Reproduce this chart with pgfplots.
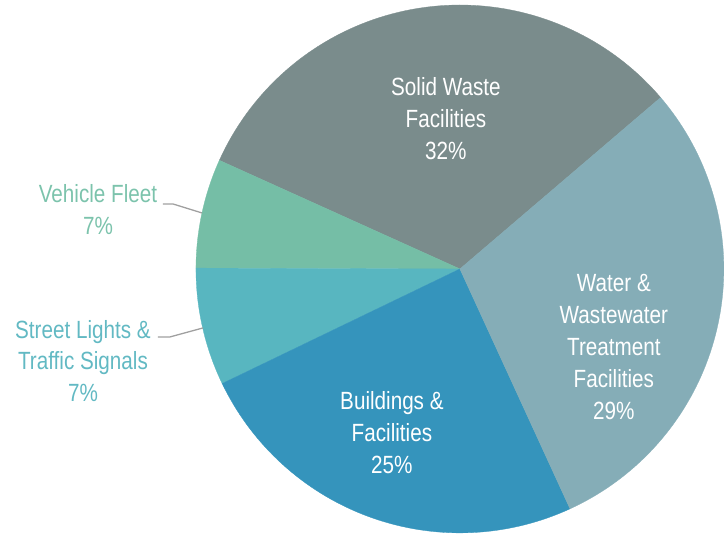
\documentclass[border=0pt]{standalone}
\usepackage{pgfplots}
\pgfplotsset{compat=1.18}
\usepackage{fontspec}
\setmainfont{Liberation Sans}[FakeStretch=0.83]
\definecolor{cSolid}{HTML}{7A8C8C}
\definecolor{cWater}{HTML}{85ADB7}
\definecolor{cBuild}{HTML}{3594BC}
\definecolor{cStreet}{HTML}{58B6C0}
\definecolor{cVehicle}{HTML}{75BEA6}
\definecolor{tVehicle}{HTML}{7CC3AC}
\definecolor{tStreet}{HTML}{62B9C3}
\definecolor{cLead}{HTML}{A0A0A0}
% slice shares (percent), counter-clockwise from 40.5 degrees
\def\vSolid{32.0}
\def\vVehicle{6.7}
\def\vStreet{7.2}
\def\vBuild{24.7}
\def\vWater{29.4}
\def\R{264}
\begin{document}
\begin{tikzpicture}
\begin{axis}[
  width=724bp, height=535bp, scale only axis,
  xmin=-460, xmax=264, ymin=-266, ymax=269,
  hide axis, clip=false,
  every axis plot/.append style={line width=0.3pt},
]
\path (axis cs:-460,-266) rectangle (axis cs:264,269);
\pgfmathsetmacro{\aA}{40.5}
\pgfmathsetmacro{\aB}{\aA+\vSolid*3.6}
\pgfmathsetmacro{\aC}{\aB+\vVehicle*3.6}
\pgfmathsetmacro{\aD}{\aC+\vStreet*3.6}
\pgfmathsetmacro{\aE}{\aD+\vBuild*3.6}
\pgfmathsetmacro{\aF}{\aE+\vWater*3.6}
\addplot[fill=cSolid, draw=cSolid, data cs=polar, domain=\aA:\aB, samples=80] {\R} -- (axis cs:0,0) -- cycle;
\addplot[fill=cVehicle, draw=cVehicle, data cs=polar, domain=\aB:\aC, samples=30] {\R} -- (axis cs:0,0) -- cycle;
\addplot[fill=cStreet, draw=cStreet, data cs=polar, domain=\aC:\aD, samples=30] {\R} -- (axis cs:0,0) -- cycle;
\addplot[fill=cBuild, draw=cBuild, data cs=polar, domain=\aD:\aE, samples=70] {\R} -- (axis cs:0,0) -- cycle;
\addplot[fill=cWater, draw=cWater, data cs=polar, domain=\aE:\aF, samples=80] {\R} -- (axis cs:0,0) -- cycle;
% leader lines
\addplot[cLead, line width=1.3pt] coordinates {(-297,65) (-287,65) (-258,56)};
\addplot[cLead, line width=1.3pt] coordinates {(-302,-68) (-290,-68) (-257,-59)};
% labels
\tikzset{lab/.style={align=center, font=\fontsize{25}{32}\selectfont, inner sep=0pt}}
\node[lab, text=white] at (axis cs:-14,150) {Solid Waste\\Facilities\\32\%};
\node[lab, text=white] at (axis cs:154,-78) {Water \&\\Wastewater\\Treatment\\Facilities\\29\%};
\node[lab, text=white] at (axis cs:-68,-164) {Buildings \&\\Facilities\\25\%};
\node[lab, text=tVehicle] at (axis cs:-362,59) {Vehicle Fleet\\7\%};
\node[lab, text=tStreet] at (axis cs:-377,-92) {Street Lights \&\\Traffic Signals\\7\%};
\end{axis}
\end{tikzpicture}
\end{document}
